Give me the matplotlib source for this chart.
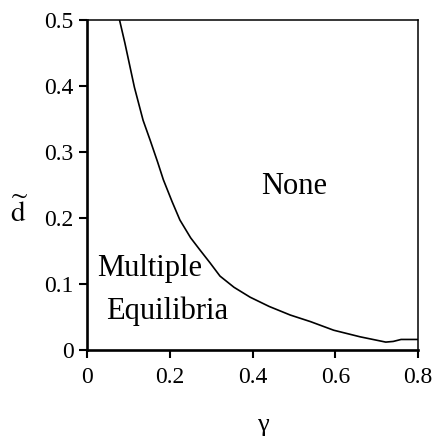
import matplotlib
matplotlib.use("Agg")
import matplotlib.pyplot as plt

plt.rcParams['font.family'] = ['Liberation Serif', 'DejaVu Serif']
plt.rcParams['mathtext.fontset'] = 'stix'

gamma = [0.078, 0.091, 0.114, 0.135, 0.152, 0.170, 0.184, 0.205, 0.224, 0.250,
         0.272, 0.297, 0.321, 0.355, 0.394, 0.440, 0.491, 0.540, 0.596, 0.660,
         0.722, 0.740, 0.759, 0.800]
d_tilde = [0.500, 0.465, 0.398, 0.348, 0.318, 0.285, 0.258, 0.225, 0.197, 0.170,
           0.152, 0.132, 0.112, 0.095, 0.080, 0.066, 0.053, 0.043, 0.030, 0.020,
           0.012, 0.013, 0.016, 0.016]
xticks = [0, 0.2, 0.4, 0.6, 0.8]
xticklabels = ['0', '0.2', '0.4', '0.6', '0.8']
yticks = [0, 0.1, 0.2, 0.3, 0.4, 0.5]
yticklabels = ['0', '0.1', '0.2', '0.3', '0.4', '0.5']

fig = plt.figure(figsize=(4.33, 4.40), dpi=100)
ax = fig.add_axes([0.2016, 0.2045, 0.7638, 0.75])
ax.plot(gamma, d_tilde, color='black', lw=1.2)
ax.set_xlim(0, 0.8)
ax.set_ylim(0, 0.5)
ax.set_xticks(xticks)
ax.set_xticklabels(xticklabels)
ax.set_yticks(yticks)
ax.set_yticklabels(yticklabels)
ax.tick_params(direction='out', length=6, width=1.5, labelsize=17, colors='black')
ax.tick_params(axis='x', pad=6)
ax.tick_params(axis='y', pad=4)
for s in ['left', 'bottom']:
    ax.spines[s].set_linewidth(1.9)
for s in ['top', 'right']:
    ax.spines[s].set_linewidth(1.1)

ax.text(294.5/433, 1 - 186/440, 'None', transform=fig.transFigure, fontsize=22, ha='center', va='center')
ax.text(97/433, 1 - 268/440, 'Multiple', transform=fig.transFigure, fontsize=22, ha='left', va='center')
ax.text(106/433, 1 - 311/440, 'Equilibria', transform=fig.transFigure, fontsize=22, ha='left', va='center')

fig.text(19/433, 1 - 212/440, r'$\widetilde{\mathrm{d}}$', fontsize=21, ha='center', va='center')
fig.text(263/433, 1 - 425/440, 'γ', fontsize=19, ha='center', va='center')

fig.savefig('out.png', dpi=100)
